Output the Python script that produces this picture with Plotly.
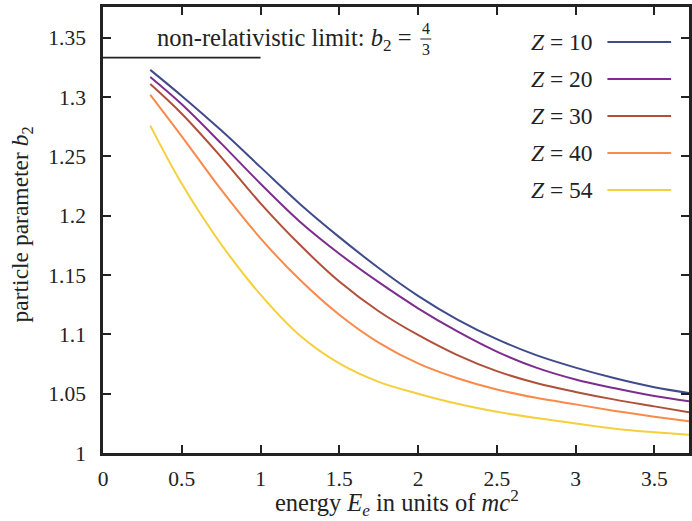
import plotly.graph_objects as go

# ---------------- data ----------------
energy = [0.30, 0.50, 0.75, 1.00, 1.25, 1.50, 1.75, 2.00, 2.25, 2.50, 2.75, 3.00, 3.25, 3.50, 3.72]

b2_z10 = [1.323, 1.301, 1.272, 1.241, 1.210, 1.182, 1.156, 1.1325, 1.1125, 1.0960, 1.0825, 1.0720, 1.0630, 1.0555, 1.0506]
b2_z20 = [1.317, 1.294, 1.261, 1.227, 1.195, 1.168, 1.144, 1.1220, 1.1025, 1.0855, 1.0720, 1.0620, 1.0545, 1.0480, 1.0436]
b2_z30 = [1.311, 1.286, 1.2495, 1.2105, 1.1755, 1.1445, 1.1195, 1.0995, 1.0825, 1.0690, 1.0590, 1.0515, 1.0450, 1.0393, 1.0343]
b2_z40 = [1.302, 1.267, 1.2220, 1.1810, 1.1460, 1.1165, 1.0930, 1.0755, 1.0630, 1.0535, 1.0465, 1.0410, 1.0355, 1.0306, 1.0267]
b2_z54 = [1.276, 1.227, 1.1760, 1.1335, 1.0990, 1.0755, 1.0600, 1.0500, 1.0415, 1.0348, 1.0295, 1.0249, 1.0205, 1.0175, 1.0154]

series_names = ["<i>Z</i> = 10", "<i>Z</i> = 20", "<i>Z</i> = 30", "<i>Z</i> = 40", "<i>Z</i> = 54"]
series_values = [b2_z10, b2_z20, b2_z30, b2_z40, b2_z54]
colors = ["#404b8b", "#7d2e8d", "#b0503a", "#f98a4a", "#f4d03c"]

limit_x = [0, 1]
limit_y = [4 / 3, 4 / 3]

x_ticks = [0, 0.5, 1, 1.5, 2, 2.5, 3, 3.5]
x_tick_labels = ["0", "0.5", "1", "1.5", "2", "2.5", "3", "3.5"]
y_ticks = [1, 1.05, 1.1, 1.15, 1.2, 1.25, 1.3, 1.35]
y_tick_labels = ["1", "1.05", "1.1", "1.15", "1.2", "1.25", "1.3", "1.35"]

# ---------------- figure ----------------
FONT = "Liberation Serif"
TXT = 23.5
W, H = 692, 521
L, R, T, B = 103, 0, 7, 68
pw, ph = W - L - R, H - T - B


def px_x(p):
    return (p - L) / pw


def px_y(p):
    return (H - B - p) / ph


fig = go.Figure()

fig.add_trace(go.Scatter(x=limit_x, y=limit_y, mode="lines",
                         line=dict(color="#222222", width=1.6),
                         showlegend=False, hoverinfo="skip"))

for name, vals, col in zip(series_names, series_values, colors):
    fig.add_trace(go.Scatter(x=energy, y=vals, mode="lines", name=name,
                             line=dict(color=col, width=2, shape="spline", smoothing=1.0),
                             showlegend=False))

axis_common = dict(showline=True, linecolor="#222222", linewidth=2.5, mirror="ticks",
                   ticks="inside", ticklen=8, tickwidth=1.5, tickcolor="#222222",
                   showgrid=False, zeroline=False,
                   tickfont=dict(family=FONT, size=21.5, color="#222222"))

fig.update_xaxes(range=[0, 3.72], tickvals=x_ticks, ticktext=x_tick_labels,
                 ticklabelstandoff=4, **axis_common)
fig.update_yaxes(range=[1, 1.376], tickvals=y_ticks, ticktext=y_tick_labels,
                 ticklabelstandoff=10, **axis_common)

annotations = []
# non-relativistic label
annotations.append(dict(xref="paper", yref="paper", x=px_x(415), y=px_y(40),
                        xanchor="right", yanchor="middle", showarrow=False,
                        text="non-relativistic limit: <i>b</i><sub>2</sub> =",
                        font=dict(family=FONT, size=24.5, color="#222222")))
annotations.append(dict(xref="paper", yref="paper", x=px_x(427.5), y=px_y(28),
                        xanchor="center", yanchor="middle", showarrow=False,
                        text="4", font=dict(family=FONT, size=16, color="#222222")))
annotations.append(dict(xref="paper", yref="paper", x=px_x(427.5), y=px_y(49),
                        xanchor="center", yanchor="middle", showarrow=False,
                        text="3", font=dict(family=FONT, size=16, color="#222222")))

# axis titles
annotations.append(dict(xref="paper", yref="paper", x=px_x(399), y=px_y(503),
                        xanchor="center", yanchor="middle", showarrow=False,
                        text="energy <i>E</i><sub><i>e</i></sub> in units of <i>mc</i><sup>2</sup>",
                        font=dict(family=FONT, size=24.5, color="#222222")))
annotations.append(dict(xref="paper", yref="paper", x=px_x(22), y=px_y(224),
                        xanchor="center", yanchor="middle", showarrow=False, textangle=-90,
                        text="particle parameter <i>b</i><sub>2</sub>",
                        font=dict(family=FONT, size=TXT, color="#222222")))

shapes = [dict(type="line", xref="paper", yref="paper",
               x0=px_x(422), x1=px_x(433), y0=px_y(39), y1=px_y(39),
               line=dict(color="#222222", width=1))]

legend_rows = [42, 79, 116, 153, 190]
for name, col, ry in zip(series_names, colors, legend_rows):
    annotations.append(dict(xref="paper", yref="paper", x=px_x(598), y=px_y(ry),
                            xanchor="right", yanchor="middle", showarrow=False,
                            text=name, font=dict(family=FONT, size=TXT, color="#222222")))
    shapes.append(dict(type="line", xref="paper", yref="paper",
                       x0=px_x(610), x1=px_x(674), y0=px_y(ry), y1=px_y(ry),
                       line=dict(color=col, width=2)))

fig.update_layout(width=W, height=H, margin=dict(l=L, r=R, t=T, b=B, pad=0),
                  plot_bgcolor="white", paper_bgcolor="white",
                  annotations=annotations, shapes=shapes, showlegend=False,
                  font=dict(family=FONT, size=21, color="#222222"))

fig.write_html("out.html")
